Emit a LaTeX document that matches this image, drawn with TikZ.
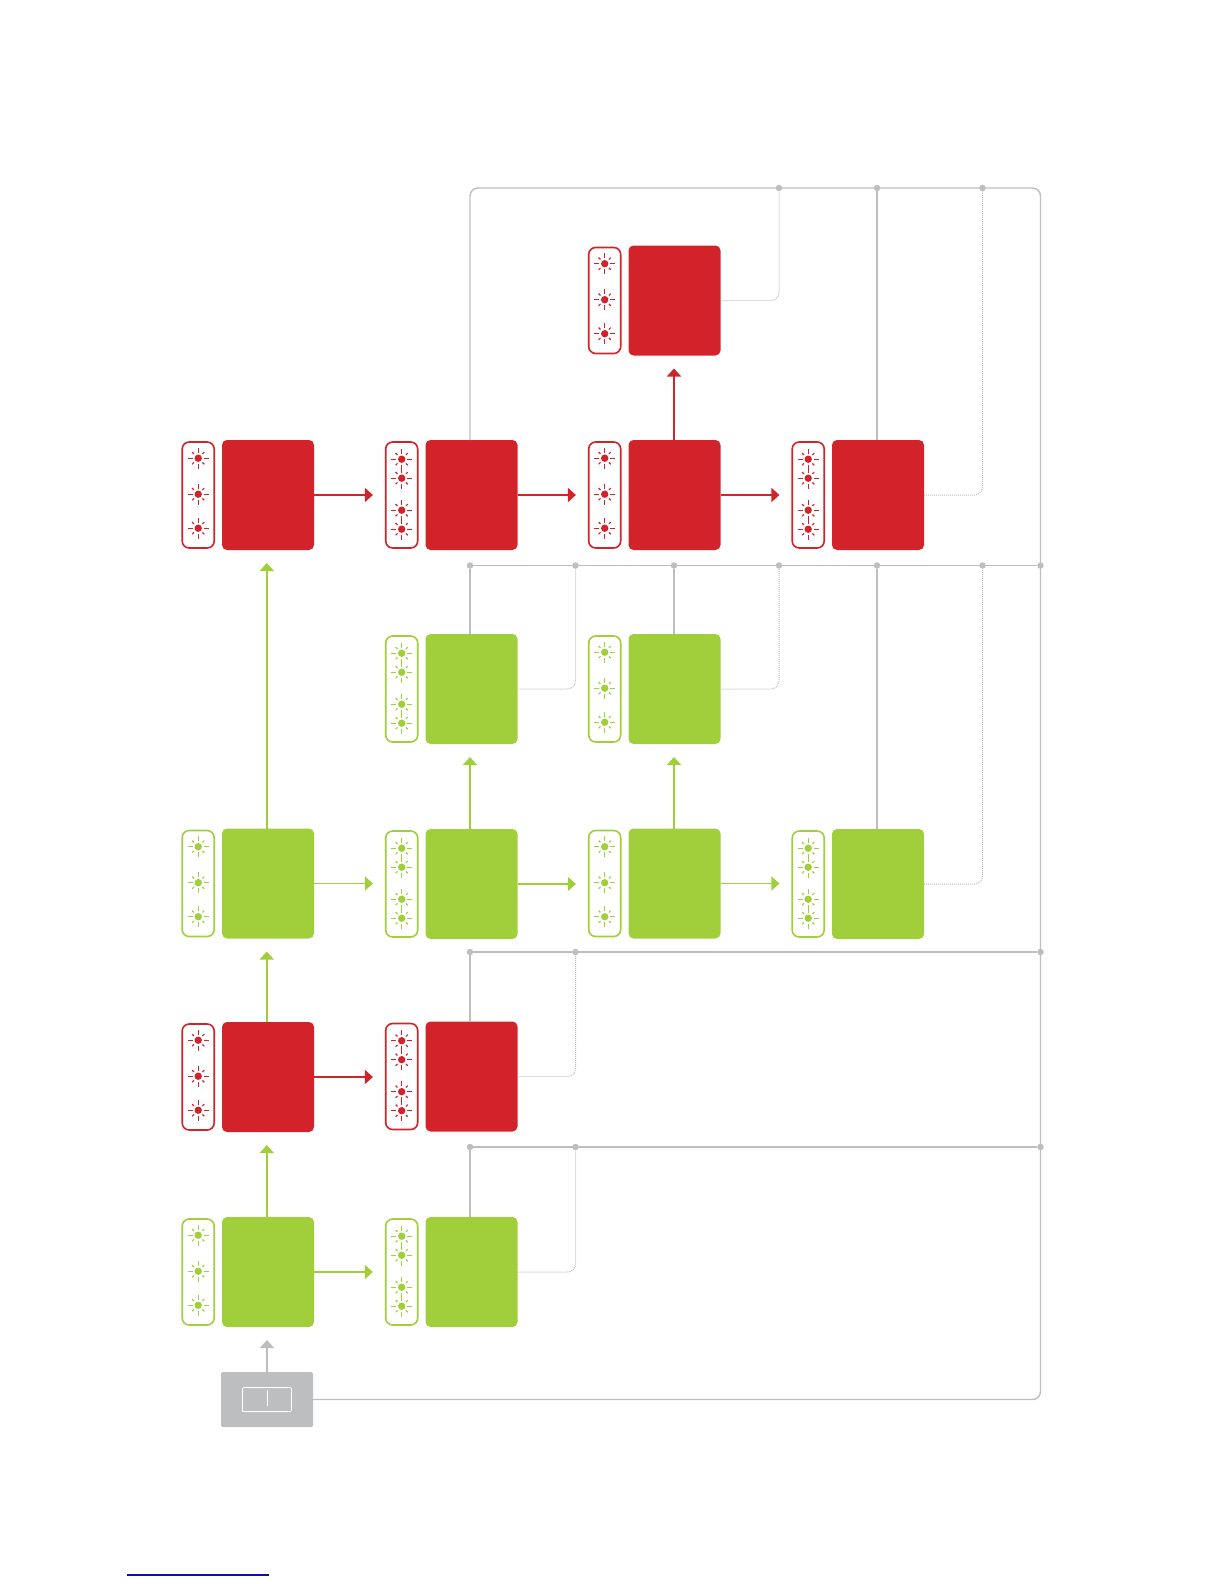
\documentclass[tikz,border=0pt]{standalone}
\usetikzlibrary{arrows.meta,positioning}
\definecolor{ledred}{HTML}{D2232A}
\definecolor{ledgreen}{HTML}{A1CF3B}
\definecolor{busgray}{HTML}{BCBEC0}
\definecolor{linkblue}{HTML}{10109A}
\tikzset{
    block/.style={fill=#1, rounded corners=5pt, minimum width=92pt, minimum height=110pt, inner sep=0pt, outer sep=0pt},
    pill/.style={draw=#1, line width=1.6pt, fill=white, rounded corners=7pt, minimum width=32pt, minimum height=106pt, inner sep=0pt, outer sep=0.8pt},
    flow/.style={draw=#1, line width=1.8pt, -{Triangle[length=8pt,width=14pt]}},
    busline/.style={busgray, line width=1.4pt, rounded corners=8pt},
    tapline/.style={busgray, line width=1pt, densely dotted, rounded corners=8pt},
    busdot/.style={circle, fill=busgray, minimum size=6.5pt, inner sep=0pt},
    pics/led/.style={code={
        \fill[#1] (0,0) circle (3.7pt);
        \foreach \a in {0,90,180,270}
            \draw[color=#1, line width=1.1pt] (\a:5.6pt) -- (\a:10.4pt);
        \foreach \a in {45,135,225,315}
            \draw[color=#1, line width=1.1pt] (\a:6pt) -- (\a:8.6pt);
    }}
}
\begin{document}
\begin{tikzpicture}[x=1pt, y=-1pt]
    \useasboundingbox (0,0) rectangle (1224,1584);

    % blocks with their indicator strips
    \foreach \nm/\cx/\cy/\col/\offs in {
        r0c3/674.5/300.5/ledred/{17,53,87},
        r1c1/268/495/ledred/{17,53,87},
        r1c2/471.5/495/ledred/{18,37,69,88},
        r1c3/674.5/495/ledred/{17,53,87},
        r1c4/878/495/ledred/{18,37,69,88},
        r2c2/471.5/689/ledgreen/{18,37,69,88},
        r2c3/674.5/689/ledgreen/{17,53,87},
        r3c1/268/883.5/ledgreen/{17,53,87},
        r3c2/471.5/884/ledgreen/{18,37,69,88},
        r3c3/674.5/883.5/ledgreen/{17,53,87},
        r3c4/878/884/ledgreen/{18,37,69,88},
        r4c1/268/1077/ledred/{17,53,87},
        r4c2/471.5/1076.5/ledred/{18,37,69,88},
        r5c1/268/1272/ledgreen/{17,53,87},
        r5c2/471.5/1272/ledgreen/{18,37,69,88}}
    {
        \node[block=\col] (\nm) at (\cx,\cy) {};
        \node[pill=\col, left=7pt of \nm] (\nm p) {};
        \foreach \o in \offs
            \pic at ([yshift=-\o pt]\nm p.north) {led=\col};
    }

    % switch box
    \node[block=busgray, minimum height=55pt, rounded corners=1.5pt] (switch) at (267,1399.5) {};
    \node[draw=white, line width=0.6pt, rounded corners=1pt, minimum width=49pt, minimum height=24pt, inner sep=0pt] (slot) at (267,1399.5) {};
    \draw[white, line width=0.8pt] ([yshift=-3pt]slot.north) -- ([yshift=6pt]slot.south);
    \draw[white, line width=1pt, densely dotted] (slot.south west) -- (slot.south east);

    % bus junctions
    \foreach \nm/\cx/\cy in {
        tapa/779/188, tapb/877/188, tapc/982.5/188,
        lowa/470/565.5, lowb/575.5/565.5, lowc/674/565.5, lowd/779/565.5,
        lowe/877/565.5, lowf/982.5/565.5, lowr/1040.5/565.5,
        mida/470/952, midb/575.5/952, midr/1040.5/952,
        baka/470/1147, bakb/575.5/1147, bakr/1040.5/1147}
        \node[busdot] (\nm) at (\cx,\cy) {};
    \coordinate (topright) at (1040.5,188);
    \coordinate (topleft) at (470,188);

    % buses
    \draw[busline] (switch.east) -| (topright) -- (topleft) -- (topleft |- r1c2.north);
    \draw[busline] (lowa) -- (lowr);
    \draw[busline] (mida) -- (midr);
    \draw[busline] (baka) -- (bakr);

    % solid stems
    \draw[busline] (tapb) -- (tapb |- r1c4.north);
    \draw[busline] (lowa) -- (lowa |- r2c2.north);
    \draw[busline] (lowc) -- (lowc |- r2c3.north);
    \draw[busline] (lowe) -- (lowe |- r3c4.north);
    \draw[busline] (mida) -- (mida |- r4c2.north);
    \draw[busline] (baka) -- (baka |- r5c2.north);

    % dotted taps
    \draw[tapline] (r0c3.east) -| (tapa);
    \draw[tapline] (r1c4.east) -| (tapc);
    \draw[tapline] (r2c2.east) -| (lowb);
    \draw[tapline] (r2c3.east) -| (lowd);
    \draw[tapline] (r3c4.east) -| (lowf);
    \draw[tapline] (r4c2.east) -| (midb);
    \draw[tapline] (r5c2.east) -| (bakb);

    % flow arrows
    \foreach \a/\b/\col in {
        r1c1/r1c2p/ledred, r1c2/r1c3p/ledred, r1c3/r1c4p/ledred,
        r3c1/r3c2p/ledgreen, r3c2/r3c3p/ledgreen, r3c3/r3c4p/ledgreen,
        r4c1/r4c2p/ledred, r5c1/r5c2p/ledgreen}
        \draw[flow=\col, shorten >=12pt] (\a.east) -- (\a.east -| \b.west);
    \foreach \a/\b/\col/\dx in {
        r1c3/r0c3/ledred/-0.5, r3c1/r1c1/ledgreen/-1.2, r3c2/r2c2/ledgreen/-1.5,
        r3c3/r2c3/ledgreen/-0.5, r4c1/r3c1/ledgreen/-1.2, r5c1/r4c1/ledgreen/-1.2,
        switch/r5c1/busgray/0}
        \draw[flow=\col, shorten >=13pt] ([xshift=\dx pt]\a.north) -- ([xshift=\dx pt]\a.north |- \b.south);

    % footer rule
    \coordinate (rulea) at (127,1575);
    \coordinate (ruleb) at (269,1575);
    \draw[linkblue, line width=1.2pt] (rulea) -- (ruleb);
\end{tikzpicture}
\end{document}
